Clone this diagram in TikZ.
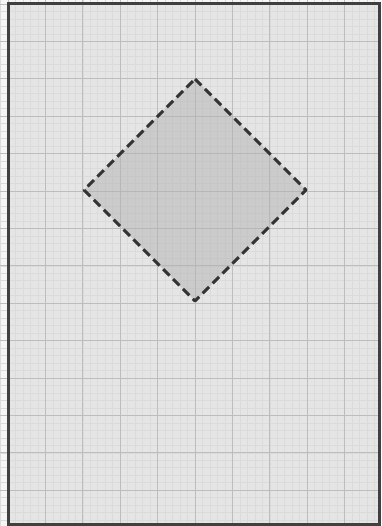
\documentclass[tikz,border=0pt]{standalone}
\begin{document}
\begin{tikzpicture}[x=1pt,y=-1pt,
  minorgrid/.style={draw=black!14,line width=0.6pt},
  majorgrid/.style={draw=black!26,line width=0.9pt},
  frameline/.style={draw=black!75,line width=3pt},
  diamondshape/.style={draw=black!80,fill=black!30,fill opacity=0.5,line width=3pt,dash pattern=on 9pt off 5pt,line join=round}]
\useasboundingbox (0,0) rectangle (381,526);
\fill[black!4] (0,0) rectangle (381,526);
\fill[black!10] (8,4) rectangle (379.5,524);
% minor grid
\foreach \i in {-1,...,50} {
  \pgfmathsetmacro\xx{8+7.48*\i}
  \draw[minorgrid] (\xx,0) -- (\xx,526);
}
\foreach \i in {-1,...,71} {
  \pgfmathsetmacro\yy{4+7.48*\i}
  \draw[minorgrid] (0,\yy) -- (381,\yy);
}
% major grid
\foreach \i in {0,...,10} {
  \pgfmathsetmacro\xx{8+37.4*\i}
  \draw[majorgrid] (\xx,0) -- (\xx,526);
}
\foreach \i in {0,...,14} {
  \pgfmathsetmacro\yy{4+37.4*\i}
  \draw[majorgrid] (0,\yy) -- (381,\yy);
}
% frame
\draw[frameline] (8,4) rectangle (379.5,524);
% diamond
\coordinate (top) at (195,79);
\coordinate (right) at (306,190);
\coordinate (bottom) at (195,301);
\coordinate (left) at (84,190);
\fill[black!30,fill opacity=0.5] (top) -- (right) -- (bottom) -- (left) -- cycle;
\draw[diamondshape,fill=none] (top) -- (right) -- (bottom) -- (left) -- cycle;
\end{tikzpicture}
\end{document}
